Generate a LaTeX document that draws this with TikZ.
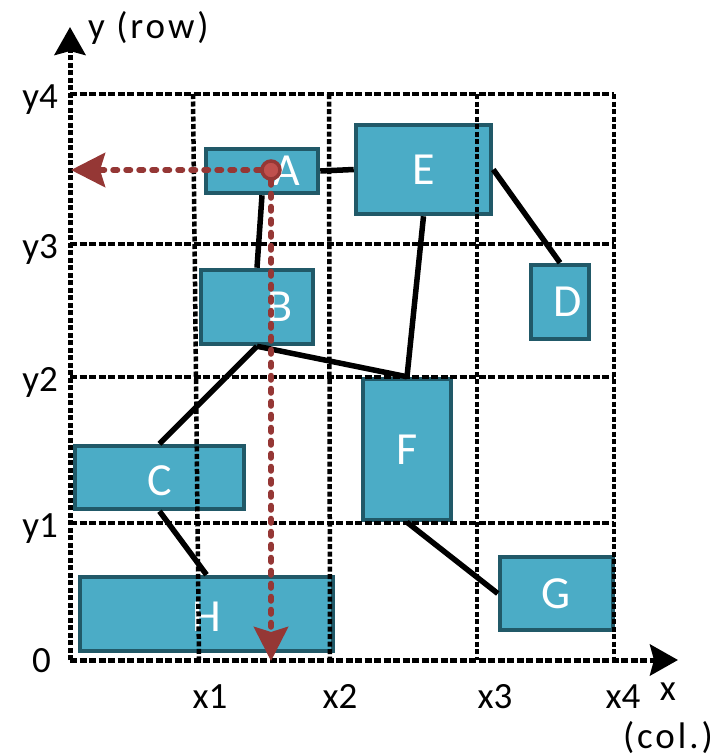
\documentclass[tikz,border=0pt]{standalone}
\usepackage{fontspec}
\setmainfont{Carlito}
\usetikzlibrary{arrows.meta}
\definecolor{tealf}{RGB}{75,172,198}
\definecolor{tealb}{RGB}{33,89,104}
\definecolor{rd}{RGB}{149,55,53}
\definecolor{rdl}{RGB}{192,80,77}
\tikzset{
  % Kästen
  blk/.style={draw=tealb, fill=tealf, line width=4.5pt, inner sep=0pt},
  boxlbl/.style={text=white, font=\fontsize{46}{46}\selectfont, inner sep=0pt},
  link/.style={line width=5.5pt},
  % Raster und Achsen
  gridh/.style={line width=4.5pt, dash pattern=on 7pt off 2.5pt},
  gridv/.style={line width=4.5pt, dash pattern=on 5pt off 2.5pt},
  axis/.style={gridv, line width=5pt, -{Stealth[length=28pt,width=31pt,inset=4pt]}},
  ax/.style={font=\fontsize{37}{37}\selectfont, inner sep=0pt},
  wide/.style={font=\fontsize{37}{37}\selectfont\addfontfeature{LetterSpace=8}},
  % Projektion des Punktes
  probe/.style={rd, line width=6pt, line cap=round, dash pattern=on 4pt off 9pt,
    -{Stealth[length=34pt,width=34pt,inset=5pt]}},
  pdot/.style={circle, draw=rd, fill=rdl, line width=3.5pt, minimum size=18pt, inner sep=0pt},
}

\begin{document}
\begin{tikzpicture}[x=1pt, y=-1pt]
  \useasboundingbox (0,0) rectangle (720,756);
  % Kästen
  \node[blk, minimum width=112, minimum height=44, label={[boxlbl, xshift=25]center:A}] (A) at (262,171) {};
  \node[blk, minimum width=112, minimum height=74, label={[boxlbl, xshift=23]center:B}] (B) at (257,307) {};
  \node[blk, minimum width=169, minimum height=63, label={[boxlbl, yshift=-3]center:C}] (C) at (159.5,477.5) {};
  \node[blk, minimum width=58, minimum height=74, label={[boxlbl, xshift=8]center:D}] (D) at (560,302) {};
  \node[blk, minimum width=135, minimum height=89, label={[boxlbl]center:E}] (E) at (423.5,169.5) {};
  \node[blk, minimum width=88, minimum height=141, label={[boxlbl]center:F}] (F) at (407,449.5) {};
  \node[blk, minimum width=113, minimum height=73, label={[boxlbl]center:G}] (G) at (556.5,593.5) {};
  \node[blk, minimum width=253, minimum height=74, label={[boxlbl, yshift=-3]center:H}] (H) at (206.5,614) {};
  % Verbindungen
  \draw[link] (A.east) -- (E.west);
  \draw[link] (A.south) -- (B.north);
  \draw[link] (E.south) -- (F.north);
  \draw[link] (E.east) -- (D.north);
  \draw[link] (B.south) -- (C.north);
  \draw[link] (B.south) -- (F.north);
  \draw[link] (C.south) -- (H.north);
  \draw[link] (F.south) -- (G.west);
  % Raster
  \foreach \xt/\xb in {193/199, 329/330, 477/477, 614/614}
    \draw[gridv] (\xt,94) -- (\xb,660);
  \foreach \gy in {94,244,377,523}
    \draw[gridh] (70,\gy) -- (614,\gy);
  \draw[axis] (70,660) -- (70,27);
  \draw[axis, gridh, line width=5pt] (70,660) -- (678,660);
  % Achsenbeschriftung
  \node[ax, wide, anchor=base west] (ylab) at (88,38) {y (row)};
  \node[ax, anchor=base east] (ly4) at (58,108) {y4};
  \node[ax, anchor=base east] (ly3) at (58,258) {y3};
  \node[ax, anchor=base east] (ly2) at (58,391) {y2};
  \node[ax, anchor=base east] (ly1) at (58,537) {y1};
  \node[ax, anchor=base east] (ly0) at (51,672) {0};
  \node[ax, anchor=base] (lx1) at (210,708) {x1};
  \node[ax, anchor=base] (lx2) at (340,708) {x2};
  \node[ax, anchor=base] (lx3) at (495,708) {x3};
  \node[ax, anchor=base] (lx4) at (623,708) {x4};
  \node[ax, anchor=base] (xlab) at (668,700) {x};
  \node[ax, wide, anchor=base] (xcol) at (668,748) {(col.)};
  % Punkt und Projektion auf die Achsen
  \node[pdot] (P) at (271,170) {};
  \coordinate (Py) at (71,170);
  \coordinate (Px) at (271,661);
  \draw[probe] (P) -- (Py);
  \draw[probe] (P) -- (Px);
\end{tikzpicture}
\end{document}
